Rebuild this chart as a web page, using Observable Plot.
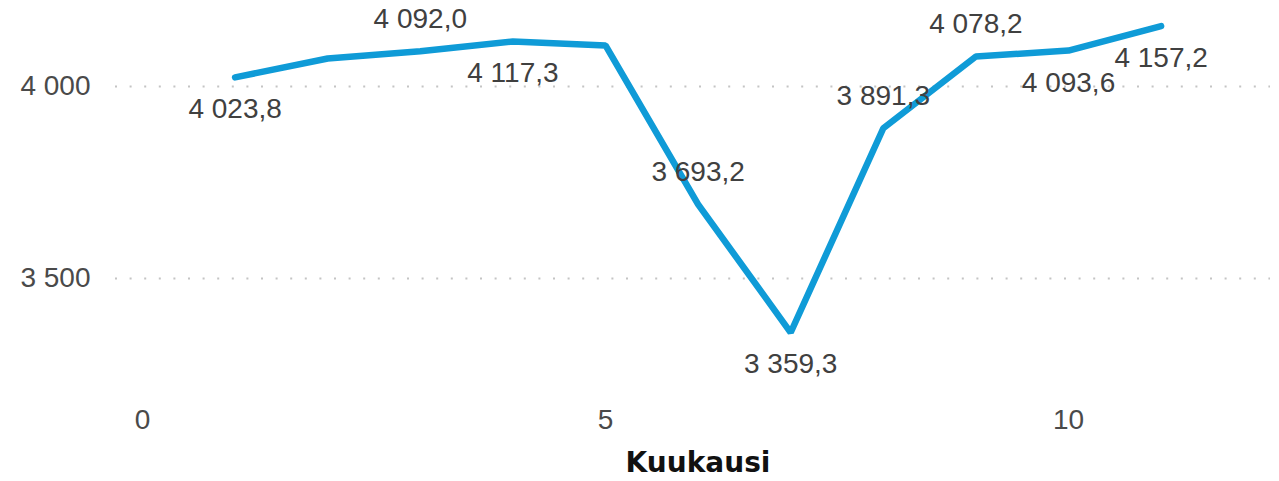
<!DOCTYPE html>
<html>
<head>
<meta charset="utf-8">
<script src="https://cdn.jsdelivr.net/npm/d3@7"></script>
<script src="https://cdn.jsdelivr.net/npm/@observablehq/plot@0.6"></script>
<style>
  html, body { margin: 0; padding: 0; background: #fff; }
  #chart svg { display: block; }
</style>
</head>
<body>
<div id="chart"></div>
<script>
// Data
const months = [1, 2, 3, 4, 5, 6, 7, 8, 9, 10, 11];
const values = [4023.8, 4073, 4092.0, 4117.3, 4107, 3693.2, 3359.3, 3891.3, 4078.2, 4093.6, 4157.2];
const labelShown = [true, false, true, true, false, true, true, true, true, true, true];
const labelSide = ["below", "", "above", "below", "", "above", "below", "above", "above", "below", "below"];
const xTicks = [0, 5, 10];
const yTicks = [3500, 4000];
const xTitle = "Kuukausi";

const fi = d3.formatLocale({decimal: ",", thousands: "\u00a0", grouping: [3]});
const fmtVal = fi.format(",.1f");
const fmtTick = fi.format(",.0f");

const rows = months.map((m, i) => ({month: m, value: values[i], shown: labelShown[i], side: labelSide[i]}));
const above = rows.filter(d => d.shown && d.side === "above");
const below = rows.filter(d => d.shown && d.side === "below");

const font = "'Liberation Sans', Arial, sans-serif";

const chart = Plot.plot({
  width: 1279,
  height: 481,
  marginLeft: 115,
  marginRight: 9,
  marginTop: 0,
  marginBottom: 82,
  style: {fontFamily: font, fontSize: "28px", color: "#454545", background: "#fff"},
  x: {domain: [0, 11], range: [142, 1160.6]},
  y: {domain: [3500, 4000], range: [278, 86]},
  marks: [
    Plot.gridY(yTicks, {stroke: "#c4c4c4", strokeOpacity: 1, strokeWidth: 2, strokeDasharray: "2,12.6"}),
    Plot.axisY({ticks: yTicks, tickSize: 0, tickPadding: 25, tickFormat: fmtTick, label: null, fill: "#4a4a4a", fontSize: 28}),
    Plot.axisX({ticks: xTicks, tickSize: 0, tickPadding: 10, tickFormat: d => String(d), label: null, fill: "#4a4a4a", fontSize: 28}),
    Plot.line(rows, {x: "month", y: "value", stroke: "#0F9BD7", strokeWidth: 6.5, strokeLinejoin: "miter", strokeLinecap: "round"}),
    Plot.text(above, {x: "month", y: "value", text: d => fmtVal(d.value), dy: -32, fill: "#404040", fontSize: 28, lineAnchor: "middle"}),
    Plot.text(below, {x: "month", y: "value", text: d => fmtVal(d.value), dy: 32, fill: "#404040", fontSize: 28, lineAnchor: "middle"}),
    Plot.text([xTitle], {frameAnchor: "bottom", text: d => d, dx: 5, dy: 64, fill: "#111", fontWeight: "bold", fontSize: 28, fontFamily: "'DejaVu Sans', sans-serif", lineAnchor: "middle"})
  ]
});
document.getElementById("chart").appendChild(chart);
</script>
</body>
</html>
